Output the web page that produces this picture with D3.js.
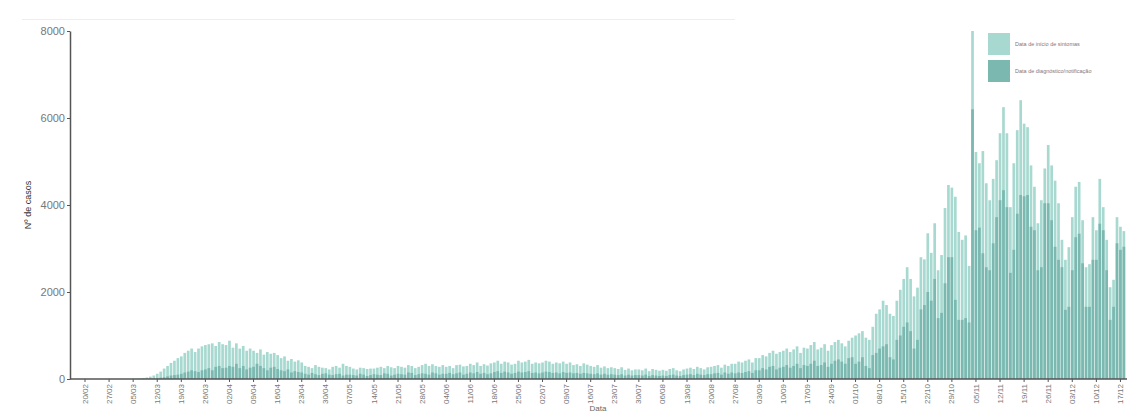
<!DOCTYPE html>
<html>
    <head>
        <meta charset="utf-8">
        <title>Curva epidémica</title>
        <script src="https://cdn.jsdelivr.net/npm/d3@7"></script>
        <style type="text/css">
        body {
            margin: 0;
            background: white;
        }
        svg text {
            font-family: 'Liberation Sans', Arial, sans-serif;
        }
        .axis path, .axis line {
            stroke: #555;
        }
        .axis text {
            fill: #777;
        }
        </style>
    </head>
    <body>
        <script type="text/javascript">

        // dias a partir de 20/02/2020
        var startDate = new Date(2020, 1, 20);

        var seriesNames = ['Data de início de sintomas', 'Data de diagnóstico/notificação'];

        // data de início de sintomas (1 linha = 1 semana)
        var inicioSintomas = [
            0, 0, 0, 0, 0, 0, 0,
            0, 0, 0, 0, 0, 2, 2,
            5, 8, 12, 20, 35, 55, 80,
            120, 170, 240, 300, 370, 420, 480,
            520, 600, 650, 700, 620, 700, 750,
            780, 800, 820, 760, 850, 800, 780,
            880, 720, 820, 700, 760, 650, 700,
            650, 600, 680, 560, 620, 580, 600,
            550, 480, 520, 420, 460, 400, 430,
            380, 300, 280, 250, 320, 280, 260,
            250, 220, 280, 300, 260, 350, 300,
            280, 240, 220, 260, 250, 230, 240,
            240, 260, 280, 250, 300, 270, 250,
            300, 280, 260, 320, 300, 250, 280,
            320, 350, 300, 340, 300, 280, 320,
            280, 300, 250, 320, 330, 290, 300,
            350, 320, 380, 300, 340, 310, 360,
            380, 420, 350, 400, 380, 330, 350,
            420, 380, 400, 440, 350, 380, 360,
            380, 420, 400, 350, 380, 360, 400,
            350, 380, 320, 340, 300, 360, 330,
            300, 280, 320, 260, 290, 250, 270,
            250, 230, 270, 210, 240, 200, 220,
            220, 200, 240, 180, 230, 210, 190,
            210, 190, 230, 250, 200, 180, 220,
            240, 260, 230, 280, 250, 220, 270,
            280, 300, 320, 260, 330, 300, 350,
            350, 400, 380, 420, 450, 380, 480,
            480, 550, 520, 600, 650, 580, 620,
            650, 700, 620, 680, 750, 600, 720,
            700, 780, 850, 680, 720, 800, 650,
            780, 850, 900, 820, 750, 880, 950,
            1000, 1050, 1100, 950, 900, 1200, 1500,
            1600, 1800, 1700, 1500, 1450, 1800, 2050,
            2300, 2570, 2300, 1900, 2100, 2800, 2750,
            3350, 2900, 3580, 2500, 2850, 3930, 4460,
            4400, 4190, 3380, 3200, 3300, 2600, 8000,
            5220, 4960, 5240, 4500, 4110, 4600, 5030,
            5650, 6250, 5650, 3950, 4960, 5720, 6410,
            5870, 5790, 4910, 4420, 3580, 4110, 4840,
            5380, 4910, 4560, 4040, 3200, 2740, 3030,
            3720, 4420, 4530, 3650, 2570, 2640, 3720,
            3420, 4600, 3950, 3200, 2110, 2280, 3720,
            3500, 3400
        ];

        // data de diagnóstico/notificação
        var diagnostico = [
            0, 0, 0, 0, 0, 0, 0,
            0, 0, 0, 0, 0, 0, 0,
            0, 0, 2, 5, 8, 10, 15,
            20, 30, 40, 60, 80, 90, 100,
            120, 150, 170, 200, 180, 160, 200,
            220, 250, 200, 280, 300, 250, 260,
            300, 280, 350, 250, 300, 220, 260,
            280, 350, 300, 250, 200, 260, 280,
            230, 200, 180, 220, 150, 180, 160,
            150, 120, 100, 140, 110, 90, 120,
            130, 100, 90, 110, 120, 80, 100,
            100, 90, 80, 120, 100, 70, 90,
            110, 100, 90, 130, 120, 80, 100,
            120, 110, 100, 150, 140, 90, 110,
            130, 120, 100, 150, 130, 100, 120,
            120, 140, 110, 130, 150, 100, 120,
            150, 130, 160, 120, 140, 110, 130,
            160, 180, 140, 170, 150, 120, 140,
            170, 150, 160, 180, 140, 150, 130,
            150, 170, 160, 140, 150, 130, 160,
            140, 150, 130, 140, 120, 140, 130,
            120, 110, 130, 100, 120, 100, 110,
            100, 90, 110, 80, 100, 80, 90,
            90, 80, 100, 70, 90, 80, 70,
            80, 70, 90, 100, 80, 70, 90,
            100, 110, 90, 120, 100, 90, 110,
            110, 130, 140, 100, 150, 120, 150,
            130, 150, 140, 160, 180, 140, 200,
            200, 250, 220, 280, 300, 220, 260,
            280, 320, 260, 300, 350, 250, 320,
            300, 350, 420, 300, 320, 380, 280,
            350, 420, 450, 400, 350, 480, 500,
            350, 400, 500, 300, 250, 550, 600,
            700, 750, 800, 500, 450, 900, 1000,
            1200, 1300, 1100, 700, 900, 1600, 1700,
            2000, 1800, 2300, 1400, 1520, 2200, 2800,
            2800, 1820, 1360, 1360, 1400, 1300, 6200,
            3420, 3480, 2890, 2570, 2500, 3120, 3720,
            4110, 4340, 3950, 2440, 2970, 3800, 4230,
            4200, 4230, 3500, 3420, 2500, 2570, 4040,
            4040, 3650, 3040, 2740, 2570, 1590, 1660,
            2500, 3260, 3340, 2660, 1660, 1660, 2740,
            2740, 3570, 3420, 2500, 1360, 1660, 3120,
            2970, 3040
        ];

        var tickLabels = ['20/02', '27/02', '05/03', '12/03', '19/03', '26/03', '02/04', '09/04',
            '16/04', '23/04', '30/04', '07/05', '14/05', '21/05', '28/05', '04/06', '11/06',
            '18/06', '25/06', '02/07', '09/07', '16/07', '23/07', '30/07', '06/08', '13/08',
            '20/08', '27/08', '03/09', '10/09', '17/09', '24/09', '01/10', '08/10', '15/10',
            '22/10', '29/10', '05/11', '12/11', '19/11', '26/11', '03/12', '10/12', '17/12'];

        var yTicks = [0, 2000, 4000, 6000, 8000];

        var colors = ['#a8d9d0', '#7ab8b0'];

        var w = 1127;
        var h = 412;

        var days = d3.range(inicioSintomas.length).map(function(i){
            return d3.timeDay.offset(startDate, i);
        });

        var svg = d3.select('body')
            .append('svg')
            .attr('width', w)
            .attr('height', h);

        // linha ténue no topo
        svg.append('line')
            .attr('x1', 22).attr('x2', 735)
            .attr('y1', 19.5).attr('y2', 19.5)
            .attr('stroke', '#eeeeee');

        var step = 3.44;
        var x = d3.scaleBand()
            .domain(days.map(function(d, i){ return i; }))
            .range([85 - step / 2, 85 - step / 2 + step * days.length])
            .paddingInner(0.22)
            .paddingOuter(0.11);

        var y = d3.scaleLinear()
            .domain([0, 8000])
            .range([379, 31]);

        // barras: início de sintomas por baixo, diagnóstico por cima
        [inicioSintomas, diagnostico].forEach(function(serie, k){
            svg.append('g')
                .selectAll('rect')
                .data(serie)
                .enter()
                .append('rect')
                .attr('x', function(d, i){ return x(i); })
                .attr('width', x.bandwidth())
                .attr('y', function(d){ return y(d); })
                .attr('height', function(d){ return y(0) - y(d); })
                .attr('fill', colors[k]);
        });

        // eixo x
        var xAxis = svg.append('g')
            .attr('class', 'axis')
            .attr('transform', 'translate(0,379)')
            .call(d3.axisBottom(x)
                .tickValues(tickLabels.map(function(t, i){ return i * 7; }))
                .tickFormat(function(d){ return tickLabels[d / 7]; })
                .tickSize(3)
                .tickSizeOuter(0));
        xAxis.select('.domain').remove();
        xAxis.append('line')
            .attr('x1', 70).attr('x2', w)
            .attr('stroke', '#555')
            .attr('stroke-width', 1.5);
        xAxis.selectAll('.tick text')
            .attr('font-size', 8)
            .attr('text-anchor', 'end')
            .attr('transform', 'rotate(-90)')
            .attr('x', -5)
            .attr('y', 0)
            .attr('dy', '0.32em');

        // eixo y
        var yAxis = svg.append('g')
            .attr('class', 'axis')
            .attr('transform', 'translate(70,0)')
            .call(d3.axisLeft(y)
                .tickValues(yTicks)
                .tickFormat(d3.format('d'))
                .tickSize(3)
                .tickSizeOuter(0));
        yAxis.select('.domain')
            .attr('stroke-width', 1.5);
        yAxis.selectAll('.tick text')
            .attr('font-size', 11)
            .attr('x', -5);

        svg.append('text')
            .text('Nº de casos')
            .attr('transform', 'translate(31,205) rotate(-90)')
            .attr('text-anchor', 'middle')
            .attr('font-size', 9)
            .attr('fill', '#333');

        svg.append('text')
            .text('Data')
            .attr('x', 598)
            .attr('y', 411)
            .attr('text-anchor', 'middle')
            .attr('font-size', 8)
            .attr('fill', '#666');

        // legenda
        var legend = svg.append('g')
            .attr('transform', 'translate(988,33)');
        seriesNames.forEach(function(name, k){
            legend.append('rect')
                .attr('x', 0)
                .attr('y', k * 27)
                .attr('width', 22)
                .attr('height', 22)
                .attr('fill', colors[k]);
            legend.append('text')
                .text(name)
                .attr('x', 27)
                .attr('y', k * 27 + 13)
                .attr('font-size', 5.5)
                .attr('fill', '#8a7474');
        });

        </script>
    </body>
</html>
